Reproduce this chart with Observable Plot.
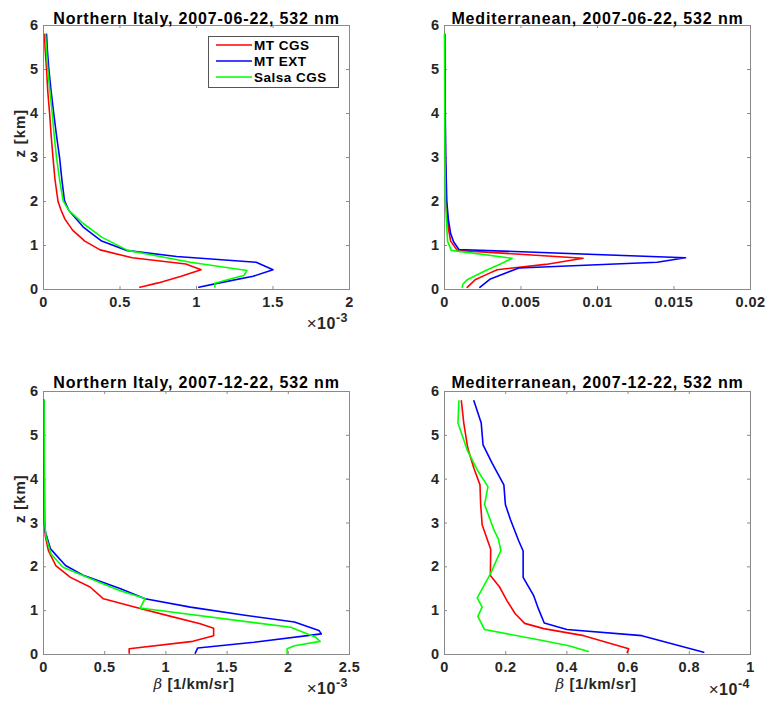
<!DOCTYPE html>
<html><head><meta charset="utf-8">
<script src="https://cdn.jsdelivr.net/npm/d3@7"></script>
<script src="https://cdn.jsdelivr.net/npm/@observablehq/plot@0.6"></script>
<style>
body{margin:0;background:#fff;}
#wrap{position:relative;width:766px;height:703px;overflow:hidden;background:#fff;}
#wrap svg text{letter-spacing:0.5px;}
</style></head>
<body><div id="wrap"></div>
<script>
// ---------- shared ----------
const seriesNames = ["MT CGS", "MT EXT", "Salsa CGS"];
const seriesColors = ["#ff0000", "#0000ff", "#00ff00"];
const zTicks = [0, 1, 2, 3, 4, 5, 6];

// ---------- Panel 1: Northern Italy, 2007-06-22 (beta in 1e-3 1/km/sr) ----------
const p1Title = "Northern Italy, 2007-06-22, 532 nm";
const p1XTicks = [0, 0.5, 1, 1.5, 2];
const p1MtCgsZ = [0.05, 0.15, 0.3, 0.45, 0.58, 0.72, 0.9, 1.1, 1.35, 1.6, 1.8, 2.0, 2.5, 3.0, 3.5, 4.0, 4.5, 5.0, 5.5, 5.8];
const p1MtCgsB = [0.63, 0.75, 0.9, 1.03, 0.93, 0.58, 0.37, 0.27, 0.19, 0.14, 0.115, 0.095, 0.075, 0.062, 0.05, 0.04, 0.028, 0.02, 0.01, 0.007];
const p1MtExtZ = [0.05, 0.15, 0.3, 0.45, 0.62, 0.75, 0.89, 1.1, 1.42, 1.8, 2.02, 2.5, 3.0, 3.5, 4.0, 4.5, 5.0, 5.5, 5.8];
const p1MtExtB = [1.015, 1.15, 1.37, 1.50, 1.39, 0.87, 0.54, 0.38, 0.26, 0.165, 0.137, 0.12, 0.105, 0.085, 0.067, 0.05, 0.035, 0.024, 0.02];
const p1SalsaZ = [0.05, 0.14, 0.24, 0.32, 0.43, 0.62, 0.89, 1.19, 1.5, 1.8, 2.02, 2.5, 3.0, 3.5, 4.0, 4.5, 5.0, 5.5, 5.8];
const p1SalsaB = [1.12, 1.12, 1.22, 1.31, 1.33, 0.96, 0.55, 0.38, 0.26, 0.165, 0.128, 0.105, 0.085, 0.07, 0.057, 0.042, 0.028, 0.018, 0.013];

// ---------- Panel 2: Mediterranean, 2007-06-22 (beta in 1/km/sr) ----------
const p2Title = "Mediterranean, 2007-06-22, 532 nm";
const p2XTicks = [0, 0.005, 0.01, 0.015, 0.02];
const p2MtCgsZ = [0.05, 0.22, 0.35, 0.45, 0.57, 0.71, 0.89, 1.1, 1.4, 2.0, 3.0, 4.0, 5.0, 5.8];
const p2MtCgsB = [0.00148, 0.002, 0.0028, 0.00344, 0.0066, 0.00906, 0.00083, 0.0004, 0.00025, 0.00012, 0.00006, 0.00004, 0.00002, 0.00001];
const p2MtExtZ = [0.05, 0.24, 0.49, 0.62, 0.72, 0.91, 1.08, 1.27, 1.6, 2.0, 3.0, 4.0, 5.0, 5.8];
const p2MtExtB = [0.00231, 0.003, 0.00486, 0.0139, 0.01575, 0.00094, 0.0006, 0.0004, 0.00025, 0.00015, 0.00008, 0.00005, 0.00003, 0.00002];
const p2SalsaZ = [0.05, 0.12, 0.22, 0.45, 0.58, 0.71, 0.89, 1.1, 2.0, 3.0, 4.0, 5.0, 5.8];
const p2SalsaB = [0.00116, 0.0012, 0.00148, 0.0028, 0.00366, 0.00442, 0.00044, 0.0002, 0.00006, 0.00003, 0.00002, 0.00001, 0.00001];

// ---------- Panel 3: Northern Italy, 2007-12-22 (beta in 1e-3) ----------
const p3Title = "Northern Italy, 2007-12-22, 532 nm";
const p3XTicks = [0, 0.5, 1, 1.5, 2, 2.5];
const p3MtCgsZ = [0.03, 0.13, 0.3, 0.43, 0.6, 0.7, 0.87, 1.05, 1.27, 1.54, 1.76, 2.03, 2.37, 2.7, 3.0, 4.0, 5.0, 5.8];
const p3MtCgsB = [0.70, 0.70, 1.22, 1.39, 1.39, 1.28, 1.04, 0.79, 0.49, 0.38, 0.22, 0.10, 0.04, 0.015, 0.008, 0.005, 0.004, 0.004];
const p3MtExtZ = [0.03, 0.15, 0.28, 0.47, 0.55, 0.74, 0.89, 1.08, 1.27, 1.5, 1.8, 2.03, 2.41, 2.8, 3.0, 4.0, 5.0, 5.8];
const p3MtExtB = [1.24, 1.26, 1.72, 2.27, 2.25, 2.05, 1.66, 1.20, 0.83, 0.63, 0.33, 0.18, 0.057, 0.015, 0.008, 0.006, 0.005, 0.004];
const p3SalsaZ = [0.02, 0.13, 0.2, 0.3, 0.4, 0.62, 1.06, 1.28, 1.46, 1.69, 1.99, 2.3, 2.7, 3.0, 4.0, 5.0, 5.8];
const p3SalsaB = [1.99, 1.99, 2.05, 2.26, 2.22, 2.02, 0.79, 0.83, 0.62, 0.42, 0.16, 0.06, 0.02, 0.01, 0.008, 0.006, 0.005];

// ---------- Panel 4: Mediterranean, 2007-12-22 (beta in 1e-4) ----------
const p4Title = "Mediterranean, 2007-12-22, 532 nm";
const p4XTicks = [0, 0.2, 0.4, 0.6, 0.8, 1];
const p4MtCgsZ = [0.05, 0.13, 0.43, 0.59, 0.71, 0.93, 1.23, 1.54, 1.8, 2.4, 2.96, 3.45, 3.87, 4.25, 4.71, 5.28, 5.79];
const p4MtCgsB = [0.597, 0.602, 0.455, 0.324, 0.262, 0.231, 0.204, 0.18, 0.15, 0.151, 0.123, 0.118, 0.116, 0.096, 0.076, 0.063, 0.055];
const p4MtExtZ = [0.05, 0.43, 0.57, 0.72, 1.04, 1.35, 1.76, 2.36, 2.6, 3.07, 3.42, 3.87, 4.36, 4.78, 5.28, 5.79];
const p4MtExtB = [0.847, 0.645, 0.40, 0.326, 0.307, 0.291, 0.257, 0.257, 0.242, 0.216, 0.199, 0.194, 0.156, 0.126, 0.12, 0.096];
const p4SalsaZ = [0.07, 0.2, 0.32, 0.57, 0.87, 1.08, 1.29, 1.84, 2.37, 2.64, 2.85, 3.42, 3.83, 4.21, 4.67, 5.28, 5.79];
const p4SalsaB = [0.47, 0.406, 0.32, 0.131, 0.109, 0.123, 0.107, 0.15, 0.184, 0.176, 0.161, 0.131, 0.142, 0.107, 0.074, 0.044, 0.047];

const wrap = document.getElementById("wrap");
const FRAME = "#8a8a8a";
const INK = "#262626";

function makePanel(cfg) {
  const fw = cfg.w - cfg.ml - cfg.mr, fh = cfg.h - cfg.mt - cfg.mb;
  const data = [];
  cfg.series.forEach(([name, zs, bs]) => zs.forEach((z, i) => data.push({name, z, b: bs[i]})));
  const tk = {stroke: FRAME, strokeWidth: 1};
  const marks = [
    Plot.frame({stroke: FRAME, strokeWidth: 1}),
    Plot.tickX(cfg.xTicks, {x: d => d, insetTop: fh - 3, ...tk}),
    Plot.tickX(cfg.xTicks, {x: d => d, insetBottom: fh - 3, ...tk}),
    Plot.tickY(zTicks, {y: d => d, insetRight: fw - 3, ...tk}),
    Plot.tickY(zTicks, {y: d => d, insetLeft: fw - 3, ...tk}),
    Plot.line(data, {x: "b", y: "z", z: "name", stroke: "name", strokeWidth: 1.6}),
    Plot.axisX(cfg.xTicks, {tickSize: 0, tickPadding: 7, fontWeight: "bold", fontSize: 14.5, fill: INK, label: null, tickFormat: d => String(d)}),
    Plot.axisY(zTicks, {tickSize: 0, tickPadding: 5, fontWeight: "bold", fontSize: 14.5, fill: INK, label: null, tickFormat: d => String(d)}),
    Plot.text([cfg.title], {frameAnchor: "top", dy: cfg.titleDy, fontWeight: "bold", fontSize: 16, fill: "#000"})
  ];
  if (cfg.ylabel) marks.push(Plot.text([cfg.ylabel], {frameAnchor: "left", dx: -23, rotate: -90, fontWeight: "bold", fontSize: 15, fill: INK}));
  const svg = Plot.plot({
    width: cfg.w, height: cfg.h,
    marginTop: cfg.mt, marginBottom: cfg.mb, marginLeft: cfg.ml, marginRight: cfg.mr,
    x: {domain: cfg.xDomain},
    y: {domain: [0, 6]},
    color: {domain: seriesNames, range: seriesColors},
    style: {fontFamily: "'Liberation Sans', Arial, sans-serif", background: "transparent", overflow: "visible"},
    marks
  });
  svg.style.position = "absolute";
  svg.style.left = cfg.left + "px";
  svg.style.top = cfg.top + "px";
  d3.select(svg).selectAll('g[aria-label="text"] text').style("letter-spacing", "0.85px");
  wrap.appendChild(svg);
}

makePanel({title: p1Title, titleDy: -13, ylabel: "z [km]", xTicks: p1XTicks, xDomain: [0, 2],
  left: 0, top: 0, w: 383, h: 351, ml: 43, mr: 34, mt: 25, mb: 62,
  series: [["MT CGS", p1MtCgsZ, p1MtCgsB], ["MT EXT", p1MtExtZ, p1MtExtB], ["Salsa CGS", p1SalsaZ, p1SalsaB]]});
makePanel({title: p2Title, titleDy: -13, xTicks: p2XTicks, xDomain: [0, 0.02],
  left: 383, top: 0, w: 383, h: 351, ml: 61, mr: 16, mt: 25, mb: 62,
  series: [["MT CGS", p2MtCgsZ, p2MtCgsB], ["MT EXT", p2MtExtZ, p2MtExtB], ["Salsa CGS", p2SalsaZ, p2SalsaB]]});
makePanel({title: p3Title, titleDy: -15, ylabel: "z [km]", xTicks: p3XTicks, xDomain: [0, 2.5],
  left: 0, top: 351, w: 383, h: 352, ml: 43, mr: 34, mt: 40, mb: 49,
  series: [["MT CGS", p3MtCgsZ, p3MtCgsB], ["MT EXT", p3MtExtZ, p3MtExtB], ["Salsa CGS", p3SalsaZ, p3SalsaB]]});
makePanel({title: p4Title, titleDy: -15, xTicks: p4XTicks, xDomain: [0, 1],
  left: 383, top: 351, w: 383, h: 352, ml: 61, mr: 16, mt: 40, mb: 49,
  series: [["MT CGS", p4MtCgsZ, p4MtCgsB], ["MT EXT", p4MtExtZ, p4MtExtB], ["Salsa CGS", p4SalsaZ, p4SalsaB]]});

// ---------- overlay: exponents, x labels, legend ----------
const ov = d3.select(wrap).append("svg")
  .attr("width", 766).attr("height", 703)
  .style("position", "absolute").style("left", "0px").style("top", "0px")
  .attr("font-family", "'Liberation Sans', Arial, sans-serif");

function exponent(xRight, yBase, p) {
  const t = ov.append("text").attr("x", xRight).attr("y", yBase).attr("text-anchor", "end")
    .attr("font-size", 16).attr("font-weight", "bold").attr("fill", INK);
  t.append("tspan").attr("font-weight", "normal").attr("font-size", 17).text("×");
  t.append("tspan").text("10");
  t.append("tspan").attr("dy", -7).attr("font-size", 12.5).text(p);
}
exponent(348, 329, "-3");
exponent(348, 694, "-3");
exponent(750, 695, "-4");

function xlabel(xc, yBase) {
  const t = ov.append("text").attr("x", xc).attr("y", yBase).attr("text-anchor", "middle")
    .attr("font-size", 15).attr("font-weight", "bold").attr("fill", INK);
  t.append("tspan").attr("font-style", "italic").attr("font-weight", "normal")
    .attr("font-family", "'DejaVu Serif', serif").text("β");
  t.append("tspan").text(" [1/km/sr]");
}
xlabel(194, 689);
xlabel(596, 689);

const lg = ov.append("g");
lg.append("rect").attr("x", 208.5).attr("y", 36.5).attr("width", 130).attr("height", 51)
  .attr("fill", "#fff").attr("stroke", "#555").attr("stroke-width", 1);
seriesNames.forEach((name, i) => {
  const y = 45 + i * 16;
  lg.append("line").attr("x1", 216).attr("x2", 252).attr("y1", y).attr("y2", y)
    .attr("stroke", seriesColors[i]).attr("stroke-width", 1.6);
  lg.append("text").attr("x", 254).attr("y", y + 5).attr("font-size", 13.5).attr("font-weight", "bold")
    .attr("fill", "#000").text(name);
});
</script>
</body></html>
